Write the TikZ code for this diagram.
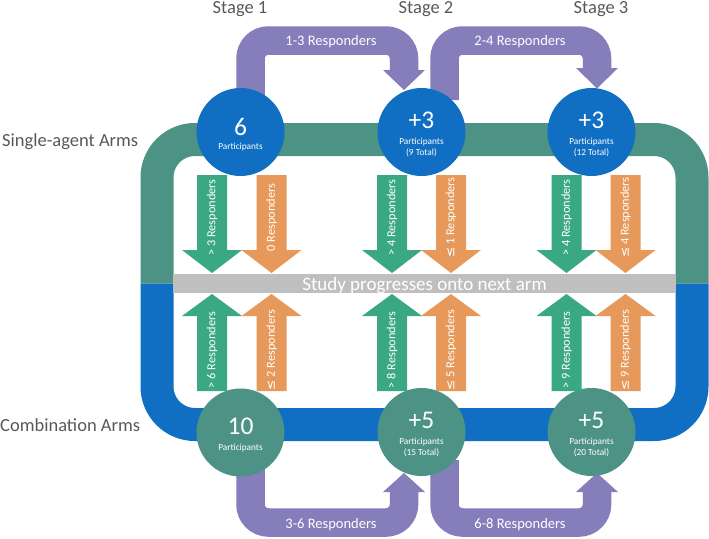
\documentclass[tikz,border=0pt]{standalone}
\usepackage{fontspec}
\setmainfont{Carlito}
\newfontfamily\symf{DejaVu Sans}
\definecolor{armgreen}{RGB}{77,147,133}
\definecolor{armblue}{RGB}{16,111,194}
\definecolor{purp}{RGB}{134,125,187}
\definecolor{vgreen}{RGB}{58,168,131}
\definecolor{vorange}{RGB}{230,153,90}
\definecolor{barg}{RGB}{191,191,191}
\definecolor{txtg}{RGB}{89,89,89}
\newcommand\lesym{{\symf\char"2264}}
\newcommand\dnarr[4]{%
  \fill[#1] (#2-15,175) -- (#2+15,175) -- (#2+15,250) -- (#2+30,250) -- (#2,273) -- (#2-30,250) -- (#2-15,250) -- cycle;
  \node[vlab] (#3) at (#2,217.5) {#4};}
\newcommand\uparr[4]{%
  \fill[#1] (#2-15,391) -- (#2+15,391) -- (#2+15,316) -- (#2+30,316) -- (#2,294) -- (#2-30,316) -- (#2-15,316) -- cycle;
  \node[vlab] (#3) at (#2,350) {#4};}
\begin{document}
\begin{tikzpicture}[x=1pt,y=-1pt,
  vlab/.style={rotate=90, text=white, font=\fontsize{12.3}{12.3}\selectfont, inner sep=0},
  plab/.style={text=white, font=\fontsize{14.5}{14.5}\selectfont, inner sep=0, anchor=base},
  stagelab/.style={text=txtg, font=\fontsize{18.5}{18.5}\selectfont, inner sep=0, anchor=base},
  armlab/.style={text=txtg, font=\fontsize{18.5}{18.5}\selectfont, inner sep=0, anchor=base west},
  purpband/.style={draw=purp, line width=28.5, rounded corners=18},
  disc/.style={circle, minimum size=88, inner sep=0},
  bignum/.style={text=white, font=\fontsize{25.5}{25.5}\selectfont, inner sep=0, anchor=base},
  smalllab/.style={text=white, font=\fontsize{9.3}{9.3}\selectfont, inner sep=0, anchor=base}]
\useasboundingbox (0,0) rectangle (709,538);
\fill[white] (0,0) rectangle (709,538);

% arm track
\draw[armgreen, line width=33, rounded corners=38] (157,283.5) -- (157,139.5) -- (692,139.5) -- (692,283.5);
\draw[armblue, line width=33, rounded corners=38] (157,283.5) -- (157,424.5) -- (692,424.5) -- (692,283.5);

% purple connectors
\coordinate (a1s) at (250.5,100);
\coordinate (a1e) at (404,70);
\coordinate (a2s) at (444.5,100);
\coordinate (a2e) at (597,68);
\coordinate (a3s) at (250.5,460);
\coordinate (a3e) at (404,492);
\coordinate (a4s) at (444.5,460);
\coordinate (a4e) at (597,492);
\draw[purpband] (a1s) -- (a1s |- 0,40.5) -- (a1e |- 0,40.5) -- (a1e);
\fill[purp] (383,70) -- (425,70) -- (404,90) -- cycle;
\draw[purpband] (a2s) -- (a2s |- 0,40.5) -- (a2e |- 0,40.5) -- (a2e);
\fill[purp] (576,68) -- (618,68) -- (597,88.5) -- cycle;
\draw[purpband] (a3s) -- (a3s |- 0,522.5) -- (a3e |- 0,522.5) -- (a3e);
\fill[purp] (383,492) -- (425,492) -- (404,473) -- cycle;
\draw[purpband] (a4s) -- (a4s |- 0,522.5) -- (a4e |- 0,522.5) -- (a4e);
\fill[purp] (576,492) -- (618,492) -- (597,473) -- cycle;
\node[plab] (r13) at (331,45) {1-3 Responders};
\node[plab] (r24) at (520,45) {2-4 Responders};
\node[plab] (r36) at (331,528) {3-6 Responders};
\node[plab] (r68) at (520,528) {6-8 Responders};

% circles
\node[disc, fill=armblue] (c1) at (240.5,132) {};
\node[disc, fill=armblue] (c2) at (421.5,132) {};
\node[disc, fill=armblue] (c3) at (591.5,132) {};
\node[disc, fill=armgreen] (c4) at (240.5,432.5) {};
\node[disc, fill=armgreen] (c5) at (421.5,432) {};
\node[disc, fill=armgreen] (c6) at (591.5,432) {};

\node[bignum] (n1) at (240.5,135) {6};
\node[smalllab] (p1) at (240.5,149.5) {Participants};
\node[bignum] (n2) at (421.5,128) {+3};
\node[smalllab] (p2) at (421.5,144) {Participants};
\node[smalllab] (t2) at (421.5,155.7) {(9 Total)};
\node[bignum] (n3) at (591.5,128) {+3};
\node[smalllab] (p3) at (591.5,144) {Participants};
\node[smalllab] (t3) at (591.5,155.7) {(12 Total)};
\node[bignum] (n4) at (240.5,434.5) {10};
\node[smalllab] (p4) at (240.5,450.5) {Participants};
\node[bignum] (n5) at (421.5,428.5) {+5};
\node[smalllab] (p5) at (421.5,444.3) {Participants};
\node[smalllab] (t5) at (421.5,455.7) {(15 Total)};
\node[bignum] (n6) at (591.5,428.5) {+5};
\node[smalllab] (p6) at (591.5,444.3) {Participants};
\node[smalllab] (t6) at (591.5,455.7) {(20 Total)};

% vertical arrows
\dnarr{vgreen}{212}{d1}{> 3 Responders}
\dnarr{vorange}{271.5}{d2}{0 Responders}
\dnarr{vgreen}{392}{d3}{> 4 Responders}
\dnarr{vorange}{451}{d4}{\lesym{} 1 Responders}
\dnarr{vgreen}{566.5}{d5}{> 4 Responders}
\dnarr{vorange}{625.5}{d6}{\lesym{} 4 Responders}
\uparr{vgreen}{212}{u1}{> 6 Responders}
\uparr{vorange}{271.5}{u2}{\lesym{} 2 Responders}
\uparr{vgreen}{392}{u3}{> 8 Responders}
\uparr{vorange}{451}{u4}{\lesym{} 5 Responders}
\uparr{vgreen}{566.5}{u5}{> 9 Responders}
\uparr{vorange}{625.5}{u6}{\lesym{} 9 Responders}

% progress bar
\fill[barg] (173,274) rectangle (676,293);
\node[text=white, font=\fontsize{19}{19}\selectfont, inner sep=0, anchor=base] (bar) at (424.5,290) {Study progresses onto next arm};

% labels
\node[stagelab] (s1) at (240,13) {Stage 1};
\node[stagelab] (s2) at (426,13) {Stage 2};
\node[stagelab] (s3) at (601,13) {Stage 3};
\node[armlab] (sa) at (2,146.5) {Single-agent Arms};
\node[armlab] (ca) at (0,431) {Combination Arms};
\end{tikzpicture}
\end{document}
